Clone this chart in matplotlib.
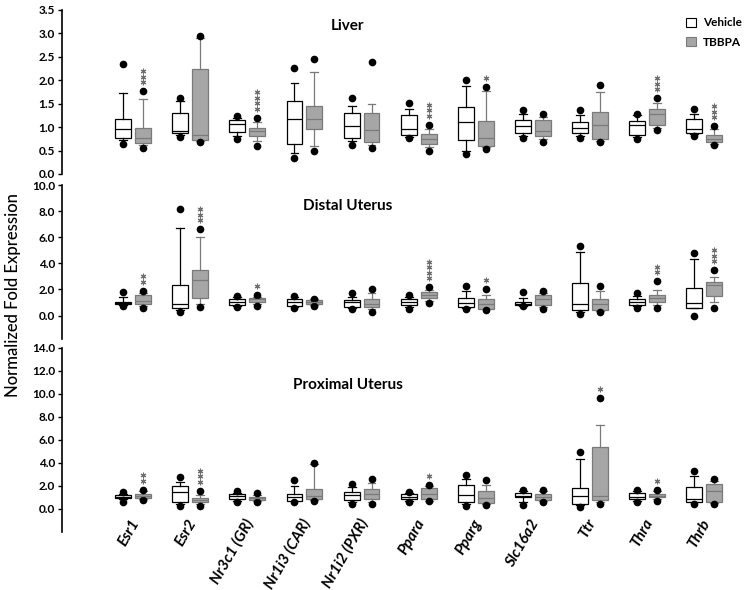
import matplotlib
matplotlib.use("Agg")
import matplotlib.pyplot as plt
from matplotlib.patches import Patch
from matplotlib.transforms import offset_copy
import numpy as np

plt.rcParams['font.family'] = ['Lato', 'DejaVu Sans']

genes = ["Esr1", "Esr2", "Nr3c1 (GR)", "Nr1i3 (CAR)", "Nr1i2 (PXR)", "Ppara",
         "Pparg", "Slc16a2", "Ttr", "Thra", "Thrb"]

# each row: lower whisker, Q1, median, Q3, upper whisker, min point, max point
liver_vehicle = [
    [0.72, 0.77, 0.95, 1.17, 1.73, 0.65, 2.35],
    [0.84, 0.87, 0.91, 1.31, 1.55, 0.80, 1.62],
    [0.82, 0.90, 1.06, 1.15, 1.20, 0.74, 1.24],
    [0.44, 0.63, 1.18, 1.55, 1.95, 0.34, 2.27],
    [0.70, 0.76, 1.03, 1.30, 1.45, 0.62, 1.62],
    [0.80, 0.83, 0.96, 1.25, 1.39, 0.76, 1.51],
    [0.50, 0.73, 1.10, 1.44, 1.88, 0.43, 2.01],
    [0.82, 0.88, 1.02, 1.15, 1.29, 0.77, 1.36],
    [0.82, 0.88, 0.98, 1.11, 1.25, 0.77, 1.36],
    [0.80, 0.84, 1.04, 1.14, 1.25, 0.75, 1.28],
    [0.85, 0.88, 0.97, 1.17, 1.29, 0.81, 1.39],
]
liver_tbbpa = [
    [0.62, 0.67, 0.77, 0.98, 1.60, 0.55, 1.77],
    [0.71, 0.72, 0.83, 2.24, 2.90, 0.69, 2.95],
    [0.70, 0.82, 0.91, 0.98, 1.10, 0.60, 1.20],
    [0.60, 0.95, 1.18, 1.46, 2.17, 0.49, 2.46],
    [0.62, 0.69, 0.93, 1.30, 1.50, 0.56, 2.38],
    [0.58, 0.64, 0.74, 0.86, 0.97, 0.48, 1.05],
    [0.57, 0.60, 0.76, 1.14, 1.78, 0.53, 1.85],
    [0.75, 0.82, 0.92, 1.15, 1.22, 0.68, 1.29],
    [0.70, 0.74, 1.04, 1.32, 1.74, 0.68, 1.90],
    [0.98, 1.04, 1.27, 1.39, 1.51, 0.94, 1.62],
    [0.65, 0.68, 0.74, 0.83, 0.96, 0.62, 1.02],
]
liver_stars = [3, 0, 4, 0, 0, 3, 1, 0, 0, 3, 3]

distal_vehicle = [
    [0.80, 0.85, 0.95, 1.05, 1.40, 0.70, 1.78],
    [0.40, 0.54, 0.92, 2.33, 6.70, 0.28, 8.20],
    [0.72, 0.77, 1.05, 1.28, 1.40, 0.67, 1.48],
    [0.68, 0.74, 1.02, 1.30, 1.40, 0.59, 1.48],
    [0.60, 0.67, 1.05, 1.18, 1.40, 0.52, 1.70],
    [0.65, 0.77, 1.02, 1.28, 1.40, 0.52, 1.54],
    [0.60, 0.67, 0.97, 1.36, 1.87, 0.51, 2.30],
    [0.75, 0.77, 0.90, 1.00, 1.36, 0.72, 1.79],
    [0.30, 0.41, 0.90, 2.46, 4.90, 0.08, 5.30],
    [0.70, 0.77, 1.02, 1.28, 1.50, 0.60, 1.70],
    [0.55, 0.60, 0.97, 2.10, 4.36, -0.05, 4.80],
]
distal_tbbpa = [
    [0.70, 0.85, 1.15, 1.54, 1.70, 0.55, 1.90],
    [0.90, 1.33, 2.70, 3.46, 6.00, 0.67, 6.60],
    [0.85, 1.02, 1.23, 1.36, 1.45, 0.72, 1.54],
    [0.80, 0.85, 1.05, 1.20, 1.25, 0.72, 1.30],
    [0.50, 0.62, 0.90, 1.23, 1.70, 0.25, 2.05],
    [1.15, 1.31, 1.54, 1.79, 1.95, 0.97, 2.18],
    [0.48, 0.51, 0.85, 1.30, 1.60, 0.46, 2.05],
    [0.65, 0.82, 1.28, 1.54, 1.70, 0.52, 1.87],
    [0.35, 0.46, 0.85, 1.28, 1.90, 0.25, 2.30],
    [0.80, 1.02, 1.36, 1.54, 1.92, 0.60, 2.64],
    [1.00, 1.48, 2.33, 2.58, 2.97, 0.60, 3.48],
]
distal_stars = [2, 3, 1, 0, 0, 4, 1, 0, 0, 2, 3]

proximal_vehicle = [
    [0.80, 0.92, 1.06, 1.20, 1.30, 0.58, 1.41],
    [0.40, 0.60, 1.44, 1.99, 2.36, 0.20, 2.74],
    [0.70, 0.84, 1.12, 1.27, 1.40, 0.58, 1.55],
    [0.65, 0.69, 1.06, 1.27, 2.00, 0.55, 2.50],
    [0.55, 0.72, 1.20, 1.44, 1.90, 0.40, 2.16],
    [0.70, 0.84, 1.06, 1.27, 1.35, 0.58, 1.41],
    [0.40, 0.58, 1.20, 2.07, 2.60, 0.26, 2.94],
    [0.60, 0.98, 1.12, 1.35, 1.50, 0.30, 1.64],
    [0.30, 0.43, 1.14, 1.78, 4.30, 0.14, 4.95],
    [0.70, 0.86, 1.06, 1.35, 1.50, 0.60, 1.64],
    [0.55, 0.58, 0.86, 1.87, 2.88, 0.45, 3.28],
]
proximal_tbbpa = [
    [0.80, 0.92, 1.12, 1.27, 1.50, 0.72, 1.64],
    [0.40, 0.55, 0.78, 0.92, 1.20, 0.26, 1.58],
    [0.65, 0.78, 0.92, 1.06, 1.20, 0.55, 1.35],
    [0.75, 0.84, 1.14, 1.70, 3.90, 0.69, 3.95],
    [0.60, 0.84, 1.30, 1.70, 2.20, 0.40, 2.56],
    [0.70, 0.84, 1.27, 1.78, 1.95, 0.63, 2.07],
    [0.45, 0.49, 0.92, 1.55, 2.07, 0.35, 2.50],
    [0.65, 0.78, 1.06, 1.27, 1.50, 0.58, 1.64],
    [0.55, 0.78, 1.14, 5.40, 7.30, 0.40, 9.65],
    [0.80, 0.98, 1.14, 1.30, 1.50, 0.63, 1.64],
    [0.50, 0.58, 1.55, 2.13, 2.40, 0.45, 2.56],
]
proximal_stars = [2, 3, 0, 0, 0, 1, 0, 0, 1, 1, 0]

panels = [
    ("Liver", liver_vehicle, liver_tbbpa, liver_stars, (0, 3.5), np.arange(0, 3.51, 0.5)),
    ("Distal Uterus", distal_vehicle, distal_tbbpa, distal_stars, (-1.8, 10), np.arange(0, 10.1, 2)),
    ("Proximal Uterus", proximal_vehicle, proximal_tbbpa, proximal_stars, (-2, 14), np.arange(0, 14.1, 2)),
]
# axes rectangles [left, bottom, width, height]
rects = [[0.0826, 0.7051, 0.910, 0.278],
         [0.0826, 0.4254, 0.910, 0.261],
         [0.0826, 0.0988, 0.910, 0.312]]
title_y = {"Liver": 0.88, "Distal Uterus": 0.835, "Proximal Uterus": 0.775}

gray_face = "#a6a6a6"
gray_edge = "#7a7a7a"


def to_stats(rows):
    out = []
    for r in rows:
        out.append(dict(whislo=r[0], q1=r[1], med=r[2], q3=r[3], whishi=r[4],
                        fliers=[r[5], r[6]]))
    return out


fig = plt.figure(figsize=(7.51, 5.9), dpi=100)
x = np.arange(len(genes))
off = 0.175
bw = 0.28

for (title, veh, tb, stars, ylim, yt), rect in zip(panels, rects):
    ax = fig.add_axes(rect)
    ax.bxp(to_stats(veh), positions=x - off, widths=bw, capwidths=bw * 0.5,
           patch_artist=True, manage_ticks=False,
           boxprops=dict(facecolor="white", edgecolor="black", linewidth=0.9),
           medianprops=dict(color="black", linewidth=0.9),
           whiskerprops=dict(color="black", linewidth=0.9),
           capprops=dict(color="black", linewidth=0.9),
           flierprops=dict(marker="o", markerfacecolor="black", markeredgecolor="black",
                           markersize=4.5))
    ax.bxp(to_stats(tb), positions=x + off, widths=bw, capwidths=bw * 0.5,
           patch_artist=True, manage_ticks=False,
           boxprops=dict(facecolor=gray_face, edgecolor=gray_edge, linewidth=0.9),
           medianprops=dict(color=gray_edge, linewidth=0.9),
           whiskerprops=dict(color=gray_edge, linewidth=0.9),
           capprops=dict(color=gray_edge, linewidth=0.9),
           flierprops=dict(marker="o", markerfacecolor="black", markeredgecolor="black",
                           markersize=4.5))

    # significance asterisks stacked above the TBBPA max point
    for i, n in enumerate(stars):
        for k in range(n):
            tr = offset_copy(ax.transData, fig=fig, x=0, y=9 + 5.5 * k, units="dots")
            ax.plot(x[i] + off, tb[i][6], marker=(6, 2, 0), markersize=4,
                    color="#6e6e6e", markeredgewidth=0.8, transform=tr, clip_on=False)

    ax.set_xlim(-1.25, 10.73)
    ax.set_ylim(*ylim)
    ax.set_yticks(yt)
    ax.set_yticklabels(["%.1f" % v for v in yt], fontsize=8.5, fontweight="bold")
    ax.set_xticks([])
    for s in ["top", "right", "bottom"]:
        ax.spines[s].set_visible(False)
    ax.spines["left"].set_linewidth(1.2)
    ax.tick_params(axis="y", length=3, width=1, pad=2)
    ax.patch.set_alpha(0)
    ax.set_title(title, fontsize=11, fontweight="bold", pad=0, x=0.418, y=title_y[title])

    if title == "Proximal Uterus":
        for i, g in enumerate(genes):
            ax.text(x[i] - 0.06, -0.7, g, rotation=60, ha="right", va="top",
                    rotation_mode="anchor", fontsize=11, fontweight="bold",
                    fontstyle="italic")
    if title == "Liver":
        handles = [Patch(facecolor="white", edgecolor="black", linewidth=0.8),
                   Patch(facecolor=gray_face, edgecolor=gray_edge, linewidth=0.8)]
        ax.legend(handles, ["Vehicle", "TBBPA"], loc="upper right",
                  bbox_to_anchor=(1.01, 1.02), frameon=False,
                  handlelength=0.8, handleheight=0.8, handletextpad=0.6,
                  labelspacing=0.7, prop=dict(weight="bold", size=8.5))

fig.text(0.017, 0.5, "Normalized Fold Expression", rotation=90, ha="center",
         va="center", fontsize=12, fontweight="medium")

fig.savefig("out.png", dpi=100)
